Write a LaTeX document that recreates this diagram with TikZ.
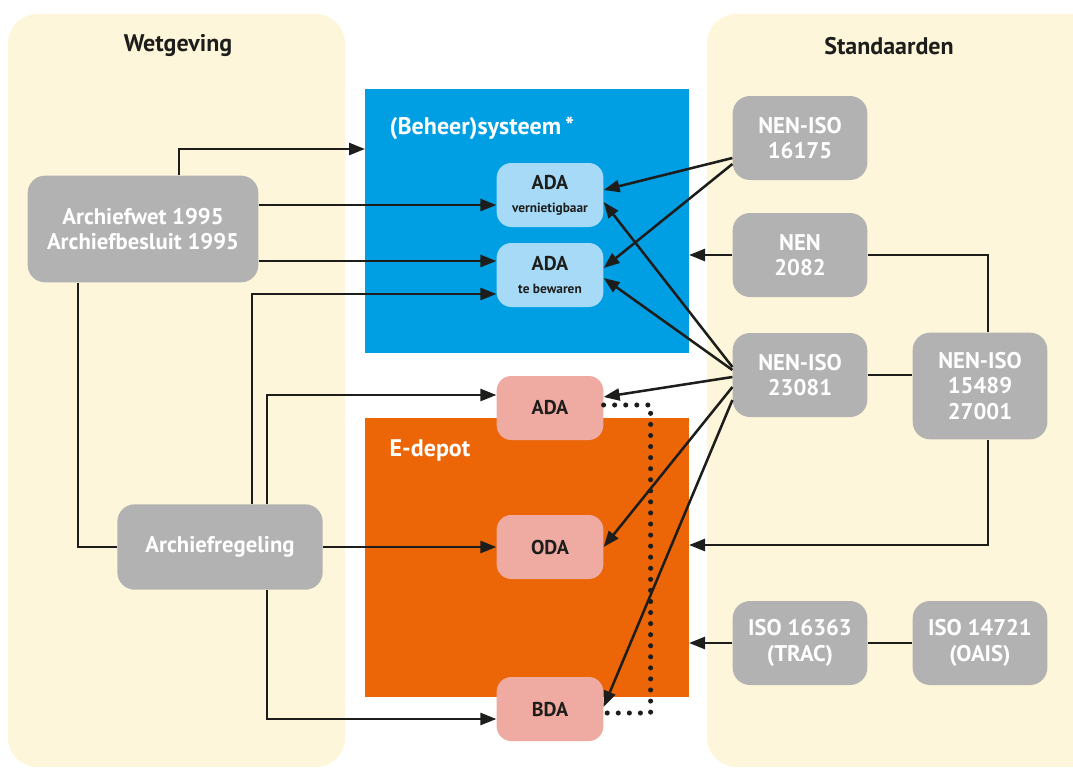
\documentclass[tikz,border=0pt]{standalone}
\usepackage{fontspec}
\setmainfont{PT Sans}
\usepackage{tikz}
\usetikzlibrary{positioning,calc,arrows.meta}

\definecolor{creme}{HTML}{FEF6DA}
\definecolor{blauw}{HTML}{009FE3}
\definecolor{oranje}{HTML}{EC6608}
\definecolor{grijs}{HTML}{B2B2B2}
\definecolor{lichtblauw}{HTML}{A6DAF7}
\definecolor{roze}{HTML}{EFAAA2}
\definecolor{donker}{HTML}{1D1D1B}

\newcommand{\groot}{\fontsize{17}{19}\selectfont\bfseries}
\newcommand{\klein}{\fontsize{10}{12}\selectfont\bfseries}

\begin{document}
\begin{tikzpicture}[x=0.75pt,y=-0.75pt,
    pijl/.style={draw=donker, line width=1.9pt, -{Triangle[length=12pt,width=9pt]}},
    verbind/.style={draw=donker, line width=1.9pt},
    stippel/.style={draw=donker, line width=3.8pt, line cap=round, dash pattern=on 0pt off 8.3pt},
    grijsbox/.style={fill=grijs, text=white, rounded corners=13pt, align=center,
        minimum width=101pt, minimum height=63pt, font=\groot},
    adabox/.style={rounded corners=11pt, align=center, text=donker,
        minimum width=80pt, minimum height=48pt, font=\fontsize{15}{16}\selectfont\bfseries},
    titel/.style={text=donker, font=\fontsize{18}{20}\selectfont\bfseries},
    kop/.style={text=white, anchor=west, font=\fontsize{18}{20}\selectfont\bfseries}]

    \useasboundingbox (0,0) rectangle (1073,767);

    % achtergrond
    \fill[creme, rounded corners=22pt] (8,14) rectangle (345,767);
    \fill[creme, rounded corners=22pt] (707,14) rectangle (1110,767);
    \fill[blauw] (365,89) rectangle (689,353);
    \fill[oranje] (365,418) rectangle (689,697);

    \node[titel] at (178,46) {Wetgeving};
    \node[titel] at (889,46) {Standaarden};
    \node[kop] at (385,128) {(Beheer)systeem\,*};
    \node[kop] at (385,450) {E-depot};

    \coordinate (sysIn) at (365,149);
    \coordinate (sysUit) at (689,255);
    \coordinate (depotA) at (689,545);
    \coordinate (depotB) at (689,643);

    % wetgeving
    \node[grijsbox, minimum width=173pt, minimum height=80pt] (wet) at (143,229) {Archiefwet 1995\\Archiefbesluit 1995};
    \node[grijsbox, minimum width=154pt, minimum height=64pt] (regeling) at (220,547) {Archiefregeling};

    % standaarden
    \node[grijsbox] (iso16175) at (800,138) {NEN-ISO\\16175};
    \node[grijsbox] (nen2082) at (800,255) {NEN\\2082};
    \node[grijsbox] (iso23081) at (800,375) {NEN-ISO\\23081};
    \node[grijsbox, minimum height=80pt] (iso15489) at (980,386) {NEN-ISO\\15489\\27001};
    \node[grijsbox] (iso16363) at (800,643) {ISO 16363\\(TRAC)};
    \node[grijsbox] (iso14721) at (980,643) {ISO 14721\\(OAIS)};

    % archieven
    \node[adabox, fill=lichtblauw] (adaV) at (550,195) {ADA\\[1pt]{\klein vernietigbaar}};
    \node[adabox, fill=lichtblauw] (adaB) at (550,275) {ADA\\[1pt]{\klein te bewaren}};
    \node[adabox, fill=roze] (adaD) at (550,408) {ADA};
    \node[adabox, fill=roze] (oda) at (550,547) {ODA};
    \node[adabox, fill=roze] (bda) at (550,709) {BDA};

    % links
    \draw[pijl] ($(wet.north)+(36,0)$) |- (sysIn);
    \draw[pijl] ($(wet.east)+(0,-24)$) coordinate (h) -- (adaV.west |- h);
    \draw[pijl] ($(wet.east)+(0,32)$) coordinate (h) -- (adaB.west |- h);
    \draw[verbind] ($(wet.south)+(-65,0)$) |- (regeling.west);
    \draw[pijl] ($(regeling.north)+(32,0)$) |- ($(adaB.west)+(0,19)$);
    \draw[pijl] ($(regeling.north)+(47,0)$) |- ($(adaD.west)+(0,-13)$);
    \draw[pijl] (regeling.east) -- (oda.west);
    \draw[pijl] ($(regeling.south)+(47,0)$) |- ($(bda.west)+(0,10)$);

    % rechts
    \draw[pijl] ($(iso16175.west)+(0,20)$) -- ($(adaV.east)+(0,-5)$);
    \draw[pijl] ($(iso16175.west)+(0,26)$) -- ($(adaB.east)+(0,-7)$);
    \draw[pijl] (nen2082.west) -- (sysUit);
    \draw[pijl] ($(iso23081.west)+(0,-8)$) -- ($(adaV.east)+(0,7)$);
    \draw[pijl] ($(iso23081.west)+(0,-5)$) -- ($(adaB.east)+(0,3)$);
    \draw[pijl] ($(iso23081.west)+(0,2)$) -- ($(adaD.east)+(0,-11)$);
    \draw[pijl] ($(iso23081.west)+(0,12)$) -- (oda.east);
    \draw[pijl] ($(iso23081.west)+(0,25)$) -- ($(bda.east)+(0,-2)$);
    \draw[verbind] (iso23081.east) -- (iso23081.east -| iso15489.west);
    \draw[verbind] ($(iso15489.north)+(8,0)$) |- (nen2082.east);
    \draw[pijl] ($(iso15489.south)+(8,0)$) |- (depotA);
    \draw[pijl] (iso16363.west) -- (depotB);
    \draw[verbind] (iso16363.east) -- (iso14721.west);

    % stippellijn
    \draw[stippel] ($(adaD.east)+(0,-3)$) -- ++(47,0) |- ($(bda.east)+(0,4)$);
\end{tikzpicture}
\end{document}
